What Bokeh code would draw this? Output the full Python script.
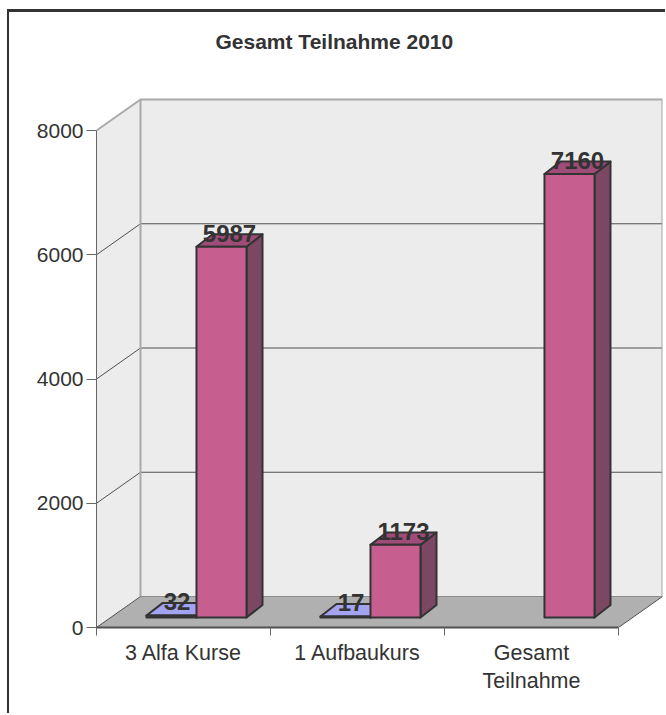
from bokeh.embed import file_html
from bokeh.resources import INLINE
from bokeh.plotting import figure
from bokeh.models import FixedTicker, ColumnDataSource
from bokeh.core.properties import value

# Chart content
title_text = "Gesamt Teilnahme 2010"
categories = ["3 Alfa Kurse", "1 Aufbaukurs", "Gesamt\nTeilnahme"]
series_a = [32, 17, None]
series_b = [5987, 1173, 7160]
y_ticks = [0, 2000, 4000, 6000, 8000]
grid_values = [2000, 4000, 6000]

# Pseudo-3D geometry: x in category units, y in value units
Y_MAX = 8000
X_END = 3.253
Y_END = 9256
WALL_DX = 0.2529      # depth of the box
WALL_DY = 499
BAR_DX = 0.092        # depth of a bar
BAR_DY = 200
BAR_W = 0.2874
BAR_B_OFFSET = 0.5747
FLOOR_LIFT = 161      # how far the bar bases sit behind the front edge
BAR_SCALE = 0.997

FONT = "Liberation Sans"
WALL = "#ececec"
WALL_EDGE = "#a9a9a9"
FLOOR = "#b0b0b0"
DARK = "#505050"
INK = "#333333"

p = figure(width=656, height=701, output_backend="svg", toolbar_location=None,
           x_range=(0, X_END), y_range=(0, Y_END),
           min_border_left=87, min_border_right=5, min_border_top=40,
           min_border_bottom=89, outline_line_color=None,
           background_fill_color="white", border_fill_color="white",
           margin=(9, 0, 0, 7),
           styles={"border-top": "3px solid #333333", "border-left": "2px solid #333333",
                   "box-sizing": "content-box"})
p.grid.visible = False

p.title.text = title_text
p.title.align = "left"
p.title.offset = 119
p.title.text_font = FONT
p.title.text_font_size = "21px"
p.title.text_font_style = "bold"
p.title.text_color = INK
p.title.standoff = 0

# Walls and floor
p.patch([0, WALL_DX, WALL_DX, 0], [0, WALL_DY, Y_MAX + WALL_DY, Y_MAX],
        fill_color=WALL, line_color=None)
p.patch([WALL_DX, 3 + WALL_DX, 3 + WALL_DX, WALL_DX],
        [WALL_DY, WALL_DY, Y_MAX + WALL_DY, Y_MAX + WALL_DY],
        fill_color=WALL, line_color=None)
p.patch([0, 3, 3 + WALL_DX, WALL_DX], [0, 0, WALL_DY, WALL_DY],
        fill_color=FLOOR, line_color=None)
p.line([WALL_DX, 3 + WALL_DX], [WALL_DY, WALL_DY], line_color="#8c8c8c", line_width=1)

# Gridlines run along the side wall and across the back wall
for g in grid_values:
    p.line([0, WALL_DX, 3 + WALL_DX], [g, g + WALL_DY, g + WALL_DY],
           line_color=DARK, line_width=1)

# Light box edges
p.line([0, WALL_DX, 3 + WALL_DX, 3 + WALL_DX],
       [Y_MAX, Y_MAX + WALL_DY, Y_MAX + WALL_DY, WALL_DY],
       line_color=WALL_EDGE, line_width=2)
p.line([WALL_DX, WALL_DX], [WALL_DY, Y_MAX + WALL_DY], line_color=WALL_EDGE, line_width=2)
p.line([0, WALL_DX], [0, WALL_DY], line_color=DARK, line_width=1)
p.line([3, 3 + WALL_DX], [0, WALL_DY], line_color=DARK, line_width=1)


def draw_bar(x0, v, front, top, side):
    h0 = FLOOR_LIFT
    h1 = FLOOR_LIFT + v * BAR_SCALE
    x1 = x0 + BAR_W
    kw = dict(line_color=INK, line_width=2, line_join="round")
    p.patch([x1, x1 + BAR_DX, x1 + BAR_DX, x1],
            [h0, h0 + BAR_DY, h1 + BAR_DY, h1], fill_color=side, **kw)
    p.patch([x0, x1, x1 + BAR_DX, x0 + BAR_DX],
            [h1, h1, h1 + BAR_DY, h1 + BAR_DY], fill_color=top, **kw)
    p.patch([x0, x1, x1, x0], [h0, h0, h1, h1], fill_color=front, **kw)


# Bars and their value labels
lab_x, lab_y, lab_t = [], [], []
for i, (a, b) in enumerate(zip(series_a, series_b)):
    x_b = i + BAR_B_OFFSET
    if a is not None:
        x_a = x_b - BAR_W
        draw_bar(x_a, a, "#9c9ce8", "#a3a3f0", "#6a6ab0")
        lab_x.append(x_a + BAR_W / 2 + BAR_DX * 0.35)
        lab_y.append(FLOOR_LIFT + a * BAR_SCALE + 225)
        lab_t.append(str(a))
    draw_bar(x_b, b, "#c65f90", "#a04c78", "#7c4763")
    lab_x.append(x_b + (BAR_W + BAR_DX) / 2)
    lab_y.append(FLOOR_LIFT + b * BAR_SCALE + 215)
    lab_t.append(str(b))

p.text(x="x", y="y", text="t", source=ColumnDataSource(dict(x=lab_x, y=lab_y, t=lab_t)),
       text_font=value(FONT), text_font_style="bold", text_font_size="24px",
       text_color=INK, text_align="center", text_baseline="alphabetic")

# Axes
yax = p.yaxis[0]
yax.bounds = (0, Y_MAX)
yax.ticker = FixedTicker(ticks=y_ticks)
yax.major_tick_in = 0
yax.major_tick_out = 10
yax.minor_tick_line_color = None
yax.axis_line_color = "#666666"
yax.major_tick_line_color = "#666666"
yax.major_label_text_font = FONT
yax.major_label_text_font_size = "21px"
yax.major_label_text_color = INK
yax.major_label_standoff = 3
yax.major_label_overrides = {t: str(t) for t in y_ticks}

xax = p.xaxis[0]
xax.bounds = (0, 3)
xax.ticker = FixedTicker(ticks=[0.5, 1.5, 2.5], minor_ticks=[0, 1, 2, 3])
xax.major_label_overrides = {0.5: categories[0], 1.5: categories[1], 2.5: categories[2]}
xax.major_tick_line_color = None
xax.minor_tick_in = 0
xax.minor_tick_out = 8
xax.minor_tick_line_color = "#666666"
xax.axis_line_color = "#505050"
xax.axis_line_width = 2
xax.major_label_text_font = FONT
xax.major_label_text_font_size = "21.5px"
xax.major_label_text_color = INK
xax.major_label_standoff = 5

open("out.html", "w").write(file_html(p, INLINE))
